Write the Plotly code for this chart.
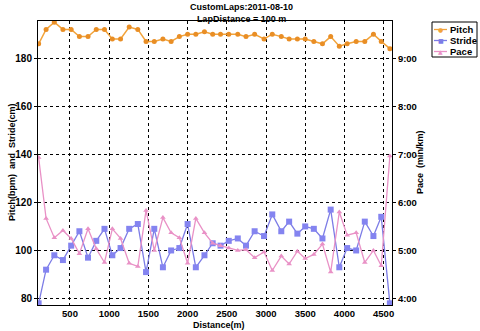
import plotly.graph_objects as go

# ---- data ----
distance = [100, 195, 300, 410, 515, 620, 730, 835, 940, 1040, 1145, 1255, 1365, 1470,
            1575, 1685, 1790, 1895, 2000, 2105, 2215, 2320, 2420, 2525, 2640, 2745, 2855,
            2975, 3080, 3195, 3295, 3400, 3500, 3610, 3720, 3825, 3935, 4035, 4150, 4260,
            4370, 4470, 4580]
pitch = [186, 192, 195, 192, 192, 189, 189, 192, 192, 188, 188, 193, 192, 187, 187, 188,
         187, 189, 190, 190, 191, 190, 190, 190, 190, 189, 190, 188, 190, 189, 188, 188,
         188, 187, 186, 189, 185, 186, 187, 187, 190, 187, 184]
stride = [78, 92, 98, 96, 102, 108, 97, 104, 109, 98, 101, 109, 111, 91, 109, 93, 100,
          101, 111, 93, 98, 103, 102, 104, 105, 102, 108, 106, 115, 108, 112, 107, 110,
          109, 105, 117, 93, 101, 100, 112, 106, 114, 78]
pace_sec = [416, 340, 316, 325, 315, 296, 327, 302, 285, 327, 315, 284, 280, 350, 300,
            341, 322, 316, 284, 340, 322, 309, 306, 303, 300, 301, 291, 298, 275, 293,
            283, 299, 290, 295, 308, 273, 348, 319, 322, 285, 300, 281, 418]
left_ticks = [80, 100, 120, 140, 160, 180]
pace_ticks = [240, 300, 360, 420, 480, 540]
pace_labels = ["4:00", "5:00", "6:00", "7:00", "8:00", "9:00"]
x_ticks = [500, 1000, 1500, 2000, 2500, 3000, 3500, 4000, 4500]

C_PITCH = "#F2A33A"
C_STRIDE = "#7C7CE6"
C_PACE = "#E991C6"

FONT = "Liberation Sans"
W, H = 480, 331
L, R, T, B = 38, 392, 21, 305

def px(xp):
    return (xp - L) / (R - L)

def py(yp):
    return (B - yp) / (B - T)

fig = go.Figure()
fig.add_trace(go.Scatter(x=distance, y=pitch, mode="lines+markers", name="Pitch",
                         line=dict(color=C_PITCH, width=1.5),
                         marker=dict(symbol="circle", size=5, color="#E98E25"),
                         showlegend=False))
fig.add_trace(go.Scatter(x=distance, y=stride, mode="lines+markers", name="Stride",
                         line=dict(color=C_STRIDE, width=1.3),
                         marker=dict(symbol="square", size=6, color="#8484F0"),
                         showlegend=False))
fig.add_trace(go.Scatter(x=distance, y=pace_sec, mode="lines+markers", name="Pace",
                         yaxis="y2",
                         line=dict(color=C_PACE, width=1.3),
                         marker=dict(symbol="triangle-up", size=5, color=C_PACE),
                         showlegend=False))

tickfont = dict(family=FONT, size=10, color="black", weight="bold")
fig.update_layout(
    width=W, height=H,
    margin=dict(l=L, r=W - R, t=T, b=H - B, autoexpand=False),
    paper_bgcolor="white", plot_bgcolor="white",
    showlegend=False,
    xaxis=dict(range=[92, 4607], tickvals=x_ticks, showgrid=True, gridcolor="black",
               griddash="dot", gridwidth=1, showline=True, linecolor="black",
               linewidth=1, mirror=True, ticks="",
               tickfont=dict(family=FONT, size=9.5, color="black", weight="bold"),
               zeroline=False),
    yaxis=dict(range=[77.3, 195.5], tickvals=left_ticks, showgrid=True,
               gridcolor="black", griddash="dot", gridwidth=1, showline=True,
               linecolor="black", linewidth=1, mirror=True, ticks="outside",
               ticklen=3, tickcolor="black", tickfont=tickfont, zeroline=False),
    yaxis2=dict(range=[231.9, 586.5], tickvals=pace_ticks, ticktext=pace_labels,
                overlaying="y", side="right", showgrid=False, showline=False,
                ticks="outside", ticklen=3, tickcolor="black",
                tickfont=dict(family=FONT, size=9.5, color="black", weight="bold"),
                zeroline=False),
)

ann = []
tf = dict(family=FONT, size=9, color="black", weight="bold")
ann.append(dict(text="CustomLaps:2011-08-10<br>LapDistance = 100 m", x=px(241),
                y=py(0), xref="paper", yref="paper", showarrow=False, font=tf,
                xanchor="center", yanchor="top", align="center"))
ann.append(dict(text="Distance(m)", x=px(219), y=py(332), xref="paper", yref="paper",
                showarrow=False, font=dict(family=FONT, size=9, color="black",
                                           weight="bold"),
                xanchor="center", yanchor="bottom"))
ann.append(dict(text="Pitch(bpm)  and  Stride(cm)", x=px(12), y=py(162), xref="paper",
                yref="paper", showarrow=False, textangle=-90,
                font=dict(family=FONT, size=9, color="black", weight="bold"),
                xanchor="center", yanchor="middle"))
ann.append(dict(text="Pace  (min/km)", x=px(420), y=py(162), xref="paper",
                yref="paper", showarrow=False, textangle=-90,
                font=dict(family=FONT, size=9, color="black", weight="bold"),
                xanchor="center", yanchor="middle"))

# manual compact legend
shapes = [dict(type="rect", xref="paper", yref="paper", x0=px(432), x1=px(477),
               y0=py(57), y1=py(22), line=dict(color="black", width=1),
               fillcolor="white")]
legend_items = [("Pitch", C_PITCH, "●", 29.5), ("Stride", C_STRIDE, "■", 40.5),
                ("Pace", C_PACE, "▲", 51.5)]
for name, col, sym, yy in legend_items:
    shapes.append(dict(type="line", xref="paper", yref="paper", x0=px(434), x1=px(447),
                       y0=py(yy), y1=py(yy), line=dict(color=col, width=1.3)))
    ann.append(dict(text=sym, x=px(440.5), y=py(yy), xref="paper", yref="paper",
                    showarrow=False, font=dict(family="DejaVu Sans", size=6, color=col),
                    xanchor="center", yanchor="middle"))
    ann.append(dict(text=name, x=px(448), y=py(yy), xref="paper", yref="paper",
                    showarrow=False, font=dict(family=FONT, size=9.5, color="black",
                                               weight="bold"),
                    xanchor="left", yanchor="middle"))

fig.update_layout(annotations=ann, shapes=shapes)
fig.write_html("out.html")
